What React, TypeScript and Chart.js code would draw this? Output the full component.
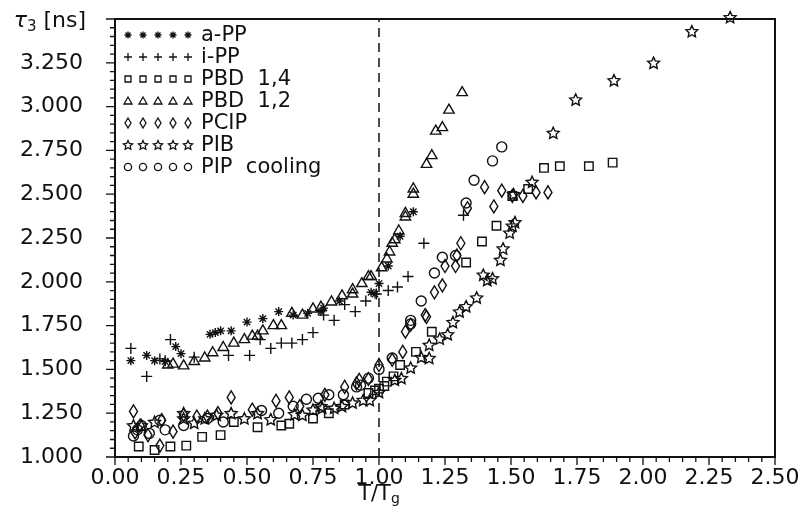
import React, { useEffect, useRef } from 'react';
import { Chart, registerables } from 'chart.js';
Chart.register(...registerables);

const FONT = '"DejaVu Sans", sans-serif';
const INK = '#111';

// ---- data (T/Tg, tau3 [ns]) ----
const seriesNames = ['a-PP', 'i-PP', 'PBD  1,4', 'PBD  1,2', 'PCIP', 'PIB', 'PIP  cooling'];

const aPP: [number, number][] = [
  [0.06, 1.55], [0.12, 1.58], [0.15, 1.55], [0.19, 1.545], [0.23, 1.63], [0.25, 1.59],
  [0.36, 1.70], [0.38, 1.71], [0.40, 1.72], [0.44, 1.72], [0.50, 1.77], [0.56, 1.79],
  [0.62, 1.83], [0.675, 1.81], [0.73, 1.82], [0.78, 1.83], [0.79, 1.85], [0.85, 1.89],
  [0.97, 1.94], [0.985, 1.93], [1.0, 1.99], [1.035, 2.09], [1.08, 2.26], [1.13, 2.40],
];
const iPP: [number, number][] = [
  [0.06, 1.62], [0.12, 1.46], [0.17, 1.56], [0.19, 1.55], [0.21, 1.67], [0.30, 1.57],
  [0.43, 1.58], [0.51, 1.58], [0.55, 1.67], [0.59, 1.62], [0.63, 1.65], [0.67, 1.65],
  [0.71, 1.67], [0.75, 1.71], [0.79, 1.81], [0.83, 1.78], [0.87, 1.87], [0.91, 1.83],
  [0.95, 1.89], [0.99, 1.93], [1.035, 1.95], [1.07, 1.97], [1.11, 2.03], [1.17, 2.22],
  [1.32, 2.38],
];
const pbd14: [number, number][] = [
  [0.09, 1.06], [0.15, 1.04], [0.21, 1.06], [0.27, 1.065], [0.33, 1.115], [0.40, 1.125],
  [0.45, 1.20], [0.54, 1.17], [0.63, 1.18], [0.66, 1.19], [0.75, 1.22], [0.81, 1.25],
  [0.87, 1.30], [0.96, 1.365], [0.985, 1.38], [1.0, 1.39], [1.02, 1.405], [1.03, 1.43],
  [1.055, 1.46], [1.08, 1.525], [1.14, 1.60], [1.20, 1.715], [1.33, 2.11], [1.39, 2.23],
  [1.445, 2.32], [1.505, 2.49], [1.565, 2.53], [1.625, 2.65], [1.685, 2.66], [1.795, 2.66],
  [1.885, 2.68],
];
const pbd12: [number, number][] = [
  [0.20, 1.525], [0.22, 1.53], [0.26, 1.52], [0.30, 1.545], [0.34, 1.565], [0.37, 1.595],
  [0.41, 1.625], [0.45, 1.65], [0.49, 1.67], [0.52, 1.69], [0.54, 1.69], [0.56, 1.72],
  [0.60, 1.75], [0.63, 1.75], [0.67, 1.82], [0.71, 1.81], [0.75, 1.845], [0.78, 1.855],
  [0.82, 1.885], [0.86, 1.92], [0.90, 1.955], [0.90, 1.93], [0.935, 1.99], [0.96, 2.03],
  [0.97, 2.03], [1.01, 2.08], [1.03, 2.13], [1.04, 2.17], [1.05, 2.22], [1.06, 2.24],
  [1.075, 2.29], [1.10, 2.37], [1.10, 2.39], [1.13, 2.50], [1.13, 2.53], [1.18, 2.67],
  [1.20, 2.72], [1.215, 2.86], [1.24, 2.88], [1.265, 2.98], [1.315, 3.08],
];
const pcip: [number, number][] = [
  [0.07, 1.26], [0.076, 1.14], [0.095, 1.18], [0.125, 1.125], [0.17, 1.065], [0.177, 1.21],
  [0.22, 1.145], [0.26, 1.24], [0.31, 1.23], [0.35, 1.23], [0.39, 1.25], [0.44, 1.34],
  [0.52, 1.27], [0.61, 1.32], [0.66, 1.34], [0.70, 1.29], [0.795, 1.355], [0.87, 1.40],
  [0.915, 1.42], [0.925, 1.44], [0.96, 1.445], [1.0, 1.525], [1.05, 1.555], [1.09, 1.60],
  [1.10, 1.715], [1.12, 1.755], [1.175, 1.81], [1.18, 1.80], [1.21, 1.94], [1.24, 1.98],
  [1.25, 2.09], [1.29, 2.09], [1.295, 2.15], [1.31, 2.22], [1.335, 2.42], [1.40, 2.54],
  [1.435, 2.43], [1.465, 2.52], [1.505, 2.49], [1.545, 2.49], [1.595, 2.51], [1.64, 2.51],
];
const pib: [number, number][] = [
  [0.07, 1.18], [0.10, 1.18], [0.15, 1.20], [0.26, 1.25], [0.26, 1.22], [0.30, 1.195],
  [0.34, 1.22], [0.385, 1.24], [0.44, 1.25], [0.49, 1.22], [0.54, 1.25], [0.59, 1.215],
  [0.68, 1.245], [0.71, 1.24], [0.75, 1.27], [0.78, 1.29], [0.785, 1.28], [0.83, 1.28],
  [0.86, 1.29], [0.90, 1.31], [0.94, 1.325], [0.965, 1.325], [1.0, 1.37], [1.06, 1.44],
  [1.085, 1.45], [1.12, 1.51], [1.16, 1.57], [1.19, 1.565], [1.19, 1.64], [1.23, 1.675],
  [1.26, 1.70], [1.28, 1.77], [1.305, 1.83], [1.33, 1.86], [1.37, 1.91], [1.395, 2.04],
  [1.41, 2.01], [1.43, 2.02], [1.46, 2.125], [1.47, 2.19], [1.495, 2.28], [1.505, 2.32],
  [1.515, 2.34], [1.51, 2.50], [1.58, 2.57], [1.66, 2.85], [1.745, 3.04], [1.89, 3.15],
  [2.04, 3.25], [2.185, 3.43], [2.33, 3.51],
];
const pip: [number, number][] = [
  [0.07, 1.12], [0.085, 1.155], [0.10, 1.18], [0.13, 1.135], [0.17, 1.21], [0.19, 1.155],
  [0.26, 1.18], [0.35, 1.22], [0.41, 1.20], [0.555, 1.265], [0.62, 1.25], [0.675, 1.29],
  [0.725, 1.33], [0.77, 1.335], [0.81, 1.355], [0.865, 1.355], [0.915, 1.40], [0.93, 1.41],
  [0.96, 1.45], [1.0, 1.50], [1.05, 1.565], [1.12, 1.76], [1.12, 1.78], [1.16, 1.89],
  [1.21, 2.05], [1.24, 2.14], [1.29, 2.15], [1.33, 2.45], [1.36, 2.58], [1.43, 2.69],
  [1.465, 2.77],
];

const xMin = 0, xMax = 2.5, xStep = 0.25;
const yMin = 1, yMax = 3.5, yStep = 0.25;
const minorStep = 0.05;
const glassLine = 1.0; // T/Tg = 1

function pathDiamond(ctx: CanvasRenderingContext2D, x: number, y: number, w: number, h: number) {
  ctx.moveTo(x, y - h / 2); ctx.lineTo(x + w / 2, y); ctx.lineTo(x, y + h / 2); ctx.lineTo(x - w / 2, y);
  ctx.closePath();
}
function pathPentagram(ctx: CanvasRenderingContext2D, x: number, y: number, R: number) {
  const r = R * 0.48;
  const cy = y + R * 0.08;
  for (let i = 0; i < 10; i++) {
    const a = -Math.PI / 2 + (i * Math.PI) / 5;
    const rr = i % 2 === 0 ? R : r;
    const px = x + rr * Math.cos(a), py = cy + rr * Math.sin(a);
    if (i === 0) ctx.moveTo(px, py); else ctx.lineTo(px, py);
  }
  ctx.closePath();
}

function drawLegendMarker(ctx: CanvasRenderingContext2D, kind: string, x: number, y: number) {
  ctx.save();
  ctx.strokeStyle = INK; ctx.lineWidth = 1.3;
  ctx.beginPath();
  if (kind === 'star') {
    const r = 3.5;
    for (let k = 0; k < 4; k++) {
      const a = (k * Math.PI) / 4;
      ctx.moveTo(x - r * Math.cos(a), y - r * Math.sin(a));
      ctx.lineTo(x + r * Math.cos(a), y + r * Math.sin(a));
    }
  } else if (kind === 'cross') {
    const r = 4;
    ctx.moveTo(x - r, y); ctx.lineTo(x + r, y); ctx.moveTo(x, y - r); ctx.lineTo(x, y + r);
  } else if (kind === 'rect') {
    ctx.rect(x - 3, y - 3, 6, 6);
  } else if (kind === 'triangle') {
    ctx.moveTo(x, y - 4); ctx.lineTo(x + 4, y + 3); ctx.lineTo(x - 4, y + 3); ctx.closePath();
  } else if (kind === 'circle') {
    ctx.arc(x, y, 3.6, 0, Math.PI * 2);
  } else if (kind === 'diamond') {
    pathDiamond(ctx, x, y, 6, 10);
  } else if (kind === 'pentagram') {
    pathPentagram(ctx, x, y, 4.8);
  }
  ctx.stroke();
  ctx.restore();
}

export default function App() {
  const ref = useRef<HTMLCanvasElement>(null);
  useEffect(() => {
    const styles: any[] = ['star', 'cross', 'rect', 'triangle', 'diamond', 'pentagram', 'circle'];
    const radii = [4.5, 5.5, 6, 6, 6, 6, 5];
    const all = [aPP, iPP, pbd14, pbd12, pcip, pib, pip];

    const deco = {
      id: 'deco',
      beforeDatasetsDraw(chart: any) {
        const { ctx, chartArea: a, scales } = chart;
        const px = scales.x.getPixelForValue(glassLine);
        ctx.save();
        ctx.strokeStyle = INK; ctx.lineWidth = 1.5; ctx.setLineDash([9, 6]);
        ctx.beginPath(); ctx.moveTo(px, a.bottom); ctx.lineTo(px, a.top); ctx.stroke();
        ctx.restore();
      },
      afterDatasetsDraw(chart: any) {
        const { ctx } = chart;
        ctx.save();
        ctx.strokeStyle = INK; ctx.lineWidth = 1.4; ctx.lineJoin = 'miter';
        chart.data.datasets.forEach((ds: any, i: number) => {
          const kind = styles[i];
          if (kind !== 'diamond' && kind !== 'pentagram') return;
          const meta = chart.getDatasetMeta(i);
          meta.data.forEach((el: any) => {
            ctx.beginPath();
            if (kind === 'diamond') pathDiamond(ctx, el.x, el.y, 8, 13);
            else pathPentagram(ctx, el.x, el.y, 6.2);
            ctx.stroke();
          });
        });
        ctx.restore();
      },
      afterDraw(chart: any) {
        const { ctx, chartArea: a, scales } = chart;
        const x = scales.x, y = scales.y;
        ctx.save();
        ctx.strokeStyle = INK;
        ctx.lineWidth = 2;
        ctx.strokeRect(a.left, a.top, a.right - a.left, a.bottom - a.top);
        ctx.lineWidth = 1.3;
        ctx.beginPath();
        const ny = Math.round((yMax - yMin) / minorStep);
        for (let i = 0; i <= ny; i++) {
          const p = y.getPixelForValue(yMin + i * minorStep);
          const len = i % 5 === 0 ? 9 : 5;
          ctx.moveTo(a.left - len, p); ctx.lineTo(a.left, p);
        }
        const nx = Math.round((xMax - xMin) / minorStep);
        for (let i = 0; i <= nx; i++) {
          const p = x.getPixelForValue(xMin + i * minorStep);
          const len = i % 5 === 0 ? 8 : 5;
          ctx.moveTo(p, a.bottom); ctx.lineTo(p, a.bottom + len);
        }
        ctx.stroke();

        // y-axis title at top
        ctx.fillStyle = INK;
        ctx.textBaseline = 'alphabetic';
        const ty = y.getPixelForValue(yMax) + 8;
        const parts = [
          { t: 'τ', f: `italic 22px ${FONT}`, dy: 0 },
          { t: '3', f: `15px ${FONT}`, dy: 4 },
          { t: ' [ns]', f: `22px ${FONT}`, dy: 0 },
        ];
        let w = 0;
        parts.forEach((p) => { ctx.font = p.f; w += ctx.measureText(p.t).width; });
        let cx = 86 - w;
        parts.forEach((p) => { ctx.font = p.f; ctx.fillText(p.t, cx, ty + p.dy); cx += ctx.measureText(p.t).width; });

        // x-axis title under T/Tg = 1
        const xp = x.getPixelForValue(glassLine);
        const xparts = [
          { t: 'T/T', f: `21px ${FONT}`, dy: 0 },
          { t: 'g', f: `14px ${FONT}`, dy: 3 },
        ];
        w = 0;
        xparts.forEach((p) => { ctx.font = p.f; w += ctx.measureText(p.t).width; });
        cx = xp - w / 2;
        xparts.forEach((p) => { ctx.font = p.f; ctx.fillText(p.t, cx, 500 + p.dy); cx += ctx.measureText(p.t).width; });

        // legend
        ctx.font = `21px ${FONT}`;
        ctx.textBaseline = 'middle';
        seriesNames.forEach((name, i) => {
          const ry = a.top + 16 + i * 22;
          for (let k = 0; k < 5; k++) drawLegendMarker(ctx, styles[i], a.left + 13 + k * 15, ry);
          ctx.fillText(name, a.left + 86, ry + 1);
        });
        ctx.restore();
      },
    };

    const chart = new Chart(ref.current!, {
      type: 'scatter',
      data: {
        datasets: all.map((d, i) => {
          const custom = styles[i] === 'diamond' || styles[i] === 'pentagram';
          return {
            label: seriesNames[i],
            data: d.map(([xv, yv]) => ({ x: xv, y: yv })),
            pointStyle: custom ? 'circle' : styles[i],
            pointRadius: custom ? 0 : radii[i],
            pointHoverRadius: custom ? 0 : radii[i],
            borderColor: INK,
            backgroundColor: 'rgba(0,0,0,0)',
            pointBorderWidth: 1.4,
            clip: false as any,
          };
        }),
      },
      options: {
        animation: false,
        responsive: false,
        events: [],
        layout: { padding: { top: 19, right: 24, left: 0, bottom: 0 } },
        plugins: { legend: { display: false }, tooltip: { enabled: false } },
        scales: {
          x: {
            type: 'linear', min: xMin, max: xMax,
            grid: { display: false }, border: { display: false },
            ticks: {
              stepSize: xStep, autoSkip: false, maxRotation: 0, padding: 0,
              color: INK, font: { family: '"DejaVu Sans", sans-serif', size: 22 },
              callback: (v: any) => Number(v).toFixed(2),
            },
            afterFit: (s: any) => { s.height = 50; s.paddingLeft = 0; s.paddingRight = 0; },
          },
          y: {
            type: 'linear', min: yMin, max: yMax,
            grid: { display: false }, border: { display: false },
            ticks: {
              stepSize: yStep, autoSkip: false, padding: 24,
              color: INK, font: { family: '"DejaVu Sans", sans-serif', size: 22 },
              callback: (v: any) => (Number(v) >= yMax - 1e-6 ? '' : Number(v).toFixed(3)),
            },
            afterFit: (s: any) => { s.width = 115; s.paddingTop = 0; s.paddingBottom = 0; },
          },
        },
      },
      plugins: [deco],
    });
    return () => chart.destroy();
  }, []);

  return (
    <div style={{ position: 'absolute', left: 0, top: 0, width: 799, height: 507, background: '#fff' }}>
      <canvas ref={ref} width={799} height={507} style={{ display: 'block' }} />
    </div>
  );
}
